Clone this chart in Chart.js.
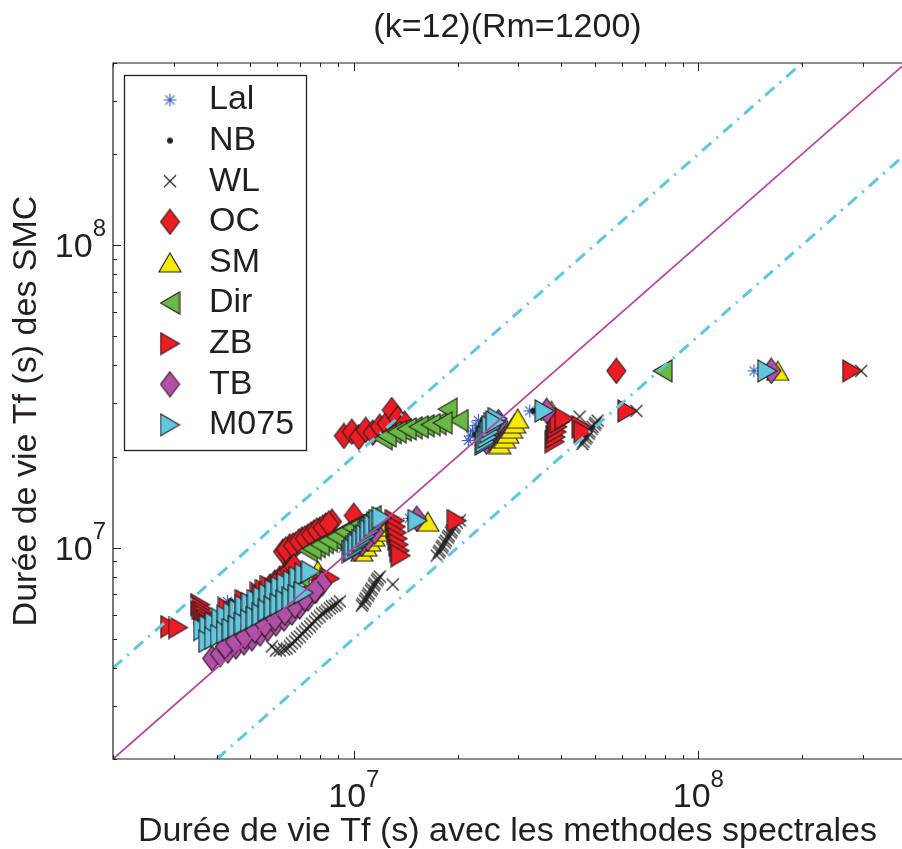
<!DOCTYPE html>
<html>
<head>
<meta charset="utf-8">
<script src="https://cdn.jsdelivr.net/npm/chart.js@4.4.0/dist/chart.umd.min.js"></script>
<style>
html, body { margin: 0; padding: 0; background: #fff; overflow: hidden; }
</style>
</head>
<body>
<canvas id="myChart" width="902" height="849"></canvas>
<script>
// axis limits (seconds), log-log
var axisMin = 2e6;
var xMax = 3.9e8;
var yMax = 4e8;
var majorTicks = [1e7, 1e8];
var minorSteps = [2, 3, 4, 5, 6, 7, 8, 9];
var tickBase = '10';
var tickExp = ['7', '8'];

// reference lines y = x, y = 2x, y = x/2
var diagX = [2e6, 4e8], diagY = [2e6, 4e8];
var upX = [2e6, 2e8], upY = [4e6, 4e8];
var lowX = [4e6, 8e8], lowY = [2e6, 4e8];

var names = ['Lal', 'NB', 'WL', 'OC', 'SM', 'Dir', 'ZB', 'TB', 'M075'];

// [spectral method Tf, SMC Tf]
var lal = [[1.45e8,3.84e7],[3.24e7,2.83e7],[2.15e7,2.26e7],[2.18e7,2.34e7],[2.21e7,2.43e7],[2.26e7,2.53e7],[2.30e7,2.63e7],
  [1.45e7,1.25e7],[9.3e6,9.95e6],[4.3e6,6.64e6]];
var nb = [[1.57e8,3.84e7],[3.32e7,2.83e7],[2.37e7,2.63e7],[2.30e7,2.47e7],[2.25e7,2.36e7],[1.47e7,1.24e7],[9.5e6,9.95e6],[4.4e6,6.64e6]];
var wl = [[2.97e8,3.84e7],[6.61e7,2.83e7],
  [4.61e7,2.20e7],[4.70e7,2.29e7],[4.80e7,2.38e7],[4.90e7,2.47e7],[5.00e7,2.55e7],[5.10e7,2.63e7],[4.52e7,2.71e7],
  [4.64e7,2.24e7],[4.74e7,2.32e7],[4.83e7,2.415e7],[4.93e7,2.51e7],[5.03e7,2.585e7],
  [1.74e7,9.41e6],[1.775e7,9.77e6],[1.81e7,1.015e7],[1.85e7,1.055e7],[1.886e7,1.095e7],[1.924e7,1.138e7],[1.962e7,1.182e7],[2.03e7,1.23e7],
  [1.764e7,9.63e6],[1.799e7,1.0e7],[1.835e7,1.039e7],[1.873e7,1.079e7],[1.911e7,1.121e7],[1.949e7,1.164e7],[1.99e7,1.209e7],
  [1.055e7,6.43e6],[1.076e7,6.68e6],[1.098e7,6.94e6],[1.12e7,7.21e6],[1.143e7,7.49e6],[1.166e7,7.78e6],[1.19e7,8.02e6],[1.297e7,7.55e6],
  [1.062e7,6.53e6],[1.083e7,6.79e6],[1.105e7,7.05e6],[1.128e7,7.32e6],[1.15e7,7.61e6],[1.174e7,7.90e6],
  [5.78e6,4.71e6],[6.10e6,4.57e6],[6.39e6,4.64e6],[6.61e6,4.82e6],[6.84e6,5.01e6],[7.07e6,5.20e6],[7.31e6,5.40e6],[7.55e6,5.61e6],
  [7.81e6,5.83e6],[8.08e6,6.06e6],[8.35e6,6.20e6],[8.64e6,6.39e6],[8.93e6,6.53e6],
  [5.94e6,4.57e6],[6.27e6,4.61e6],[6.52e6,4.71e6],[6.75e6,4.90e6],[6.97e6,5.08e6],[7.21e6,5.28e6],[7.46e6,5.48e6],[7.71e6,5.70e6],
  [7.97e6,5.92e6],[8.24e6,6.10e6],[8.52e6,6.29e6],[8.81e6,6.43e6],[9.11e6,6.64e6]];
var oc = [[5.78e7,3.84e7],
  [9.36e6,2.34e7],[9.87e6,2.415e7],[1.034e7,2.32e7],[1.083e7,2.45e7],[1.135e7,2.40e7],[1.19e7,2.51e7],[1.246e7,2.57e7],[1.289e7,2.85e7],[1.341e7,2.67e7],[1.405e7,2.57e7],
  [6.23e6,9.70e6],[6.52e6,1.008e7],[6.79e6,1.023e7],[7.07e6,1.063e7],[7.36e6,1.087e7],[7.66e6,1.121e7],[7.97e6,1.147e7],[8.29e6,1.182e7],[8.64e6,1.218e7],[1.0e7,1.275e7],
  [6.35e6,9.85e6],[6.66e6,1.015e7],[6.93e6,1.047e7],[7.21e6,1.071e7],[7.51e6,1.104e7],[7.81e6,1.138e7],[8.13e6,1.164e7],[8.46e6,1.200e7],
  [5.16e6,6.79e6],[5.34e6,6.99e6],[5.52e6,7.21e6],[5.71e6,7.43e6],[5.90e6,7.66e6],[6.10e6,7.90e6],[6.31e6,8.15e6],[6.52e6,8.40e6],[6.70e6,8.66e6]];
var sm = [[1.70e8,3.84e7],[3.75e7,2.83e7],
  [2.65e7,2.20e7],[2.74e7,2.29e7],[2.80e7,2.38e7],[2.87e7,2.47e7],[2.93e7,2.57e7],[2.99e7,2.67e7],
  [1.055e7,9.70e6],[1.083e7,1.008e7],[1.113e7,1.047e7],[1.143e7,1.087e7],[1.174e7,1.129e7],[1.206e7,1.173e7],[1.64e7,1.218e7],
  [4.67e6,5.83e6],[5.60e6,6.79e6],[6.52e6,7.32e6],[7.86e6,8.40e6]];
var dir = [[7.87e7,3.84e7],
  [1.214e7,2.29e7],[1.289e7,2.40e7],[1.378e7,2.45e7],[1.483e7,2.49e7],[1.606e7,2.53e7],[1.74e7,2.57e7],[1.873e7,2.87e7],[2.015e7,2.63e7],
  [1.246e7,2.34e7],[1.333e7,2.415e7],[1.424e7,2.47e7],[1.543e7,2.51e7],[1.672e7,2.55e7],[1.811e7,2.585e7],
  [7.36e6,9.77e6],[7.76e6,1.008e7],[8.19e6,1.039e7],[8.64e6,1.071e7],[9.11e6,1.112e7],[9.61e6,1.147e7],[1.013e7,1.182e7],[1.069e7,1.218e7],[1.128e7,1.266e7],
  [7.55e6,9.92e6],[7.97e6,1.023e7],[8.41e6,1.055e7],[8.87e6,1.087e7],[9.36e6,1.129e7],[9.87e6,1.164e7],[1.041e7,1.200e7],[1.098e7,1.237e7],
  [4.23e6,5.20e6],[4.67e6,5.48e6],[5.16e6,6.06e6],[5.41e6,6.58e6],[6.10e6,7.32e6],[6.97e6,8.02e6]];
var zb = [[2.795e8,3.84e7],[6.23e7,2.83e7],
  [3.83e7,2.24e7],[3.85e7,2.32e7],[3.88e7,2.415e7],[3.90e7,2.51e7],[3.955e7,2.60e7],[4.09e7,2.67e7],[4.58e7,2.51e7],[4.64e7,2.415e7],
  [1.315e7,1.228e7],[1.324e7,1.173e7],[1.333e7,1.121e7],[1.341e7,1.071e7],[1.35e7,1.023e7],[1.359e7,9.77e6],[1.368e7,9.41e6],[1.99e7,1.228e7],
  [2.93e6,5.48e6],[3.09e6,5.44e6],[3.58e6,6.48e6],[3.62e6,6.29e6],[3.66e6,6.10e6],[3.70e6,5.92e6],[3.74e6,5.74e6],[3.78e6,5.57e6],[3.82e6,5.40e6],
  [4.31e6,6.29e6],[4.83e6,6.68e6],[5.34e6,7.05e6],[5.52e6,7.21e6],[5.71e6,7.43e6],[8.08e6,7.61e6],[8.52e6,7.90e6]];
var tb = [[1.628e8,3.84e7],[3.63e7,2.83e7],
  [2.43e7,2.24e7],[2.48e7,2.32e7],[2.53e7,2.415e7],[2.58e7,2.51e7],[2.63e7,2.60e7],
  [1.007e7,9.92e6],[1.055e7,1.031e7],[1.098e7,1.071e7],[1.15e7,1.129e7],[1.523e7,1.246e7],
  [3.88e6,4.30e6],[4.09e6,4.44e6],[4.31e6,4.57e6],[4.55e6,4.71e6],[4.80e6,4.86e6],[5.06e6,5.01e6],[5.34e6,5.20e6],[5.63e6,5.40e6],
  [5.94e6,5.61e6],[6.27e6,5.83e6],[6.61e6,6.10e6],[6.97e6,6.39e6],[7.36e6,6.79e6],[7.76e6,7.21e6],[8.08e6,7.61e6],
  [4.23e6,4.71e6],[4.52e6,4.90e6],[4.83e6,5.08e6],[5.16e6,5.32e6],[5.52e6,5.57e6],[5.90e6,5.83e6],[6.31e6,6.10e6],[6.75e6,6.43e6],
  [7.21e6,6.79e6],[7.71e6,7.21e6]];
var m075 = [[1.585e8,3.84e7],[3.58e7,2.83e7],
  [2.397e7,2.20e7],[2.43e7,2.29e7],[2.46e7,2.38e7],[2.495e7,2.47e7],[2.545e7,2.57e7],[2.615e7,2.67e7],
  [2.41e7,2.24e7],[2.445e7,2.32e7],[2.48e7,2.415e7],[2.51e7,2.51e7],[2.58e7,2.60e7],
  [9.87e6,9.70e6],[1.013e7,1.008e7],[1.041e7,1.039e7],[1.069e7,1.079e7],[1.098e7,1.121e7],[1.128e7,1.164e7],[1.166e7,1.209e7],[1.532e7,1.228e7],
  [1.0e7,9.85e6],[1.027e7,1.023e7],[1.055e7,1.055e7],[1.083e7,1.095e7],[1.113e7,1.138e7],[1.143e7,1.182e7],[1.182e7,1.228e7],[1.206e7,1.256e7],
  [3.65e6,5.36e6],[3.80e6,5.48e6],[3.95e6,5.61e6],[4.12e6,5.79e6],[4.28e6,5.92e6],[4.46e6,6.06e6],[4.64e6,6.20e6],[4.83e6,6.39e6],
  [5.03e6,6.53e6],[5.23e6,6.68e6],[5.45e6,6.84e6],[5.67e6,6.99e6],[5.90e6,7.21e6],[6.14e6,7.38e6],[6.39e6,7.55e6],[6.66e6,7.72e6],
  [6.93e6,7.96e6],[7.21e6,8.15e6],[7.51e6,8.33e6],
  [3.78e6,4.90e6],[3.93e6,5.01e6],[4.09e6,5.12e6],[4.26e6,5.24e6],[4.43e6,5.36e6],[4.61e6,5.48e6],[4.80e6,5.61e6],[5.00e6,5.74e6],
  [5.20e6,5.87e6],[5.41e6,6.01e6],[5.63e6,6.20e6],[5.86e6,6.34e6],[6.10e6,6.48e6],[6.35e6,6.64e6],[6.61e6,6.79e6],[6.88e6,6.94e6],[7.16e6,7.10e6]];

var ink = '#231f20';
var family = "'Liberation Sans', Arial, Helvetica, sans-serif";
Chart.defaults.font.family = family;

// matlab-like markers drawn once on small canvases
function makeMarker(kind, fill) {
  var c = document.createElement('canvas');
  var g;
  if (kind === 'star') {
    c.width = 15; c.height = 15;
    g = c.getContext('2d');
    g.strokeStyle = fill; g.lineWidth = 1.2;
    g.beginPath();
    g.moveTo(1, 7.5); g.lineTo(14, 7.5);
    g.moveTo(7.5, 1); g.lineTo(7.5, 14);
    g.moveTo(2.9, 2.9); g.lineTo(12.1, 12.1);
    g.moveTo(12.1, 2.9); g.lineTo(2.9, 12.1);
    g.stroke();
    return c;
  }
  if (kind === 'dot') {
    c.width = 8; c.height = 8;
    g = c.getContext('2d');
    g.fillStyle = fill;
    g.beginPath(); g.arc(4, 4, 3, 0, Math.PI * 2); g.fill();
    return c;
  }
  if (kind === 'x') {
    c.width = 14; c.height = 14;
    g = c.getContext('2d');
    g.strokeStyle = fill; g.lineWidth = 1.2;
    g.beginPath();
    g.moveTo(1, 1); g.lineTo(13, 13);
    g.moveTo(13, 1); g.lineTo(1, 13);
    g.stroke();
    return c;
  }
  if (kind === 'diamond') {
    c.width = 21; c.height = 27;
    g = c.getContext('2d');
    g.beginPath(); g.moveTo(10.5, 1); g.lineTo(20, 13.5); g.lineTo(10.5, 26); g.lineTo(1, 13.5); g.closePath();
  } else if (kind === 'up') {
    c.width = 24; c.height = 21;
    g = c.getContext('2d');
    g.beginPath(); g.moveTo(12, 1); g.lineTo(23, 20); g.lineTo(1, 20); g.closePath();
  } else if (kind === 'right') {
    c.width = 21; c.height = 24;
    g = c.getContext('2d');
    g.beginPath(); g.moveTo(1, 1); g.lineTo(20, 12); g.lineTo(1, 23); g.closePath();
  } else {
    c.width = 21; c.height = 24;
    g = c.getContext('2d');
    g.beginPath(); g.moveTo(20, 1); g.lineTo(1, 12); g.lineTo(20, 23); g.closePath();
  }
  g.fillStyle = fill; g.fill();
  g.strokeStyle = ink; g.lineWidth = 1.1; g.lineJoin = 'miter'; g.stroke();
  return c;
}

var series = [
  { data: lal, marker: makeMarker('star', '#3f62bd') },
  { data: nb, marker: makeMarker('dot', ink) },
  { data: wl, marker: makeMarker('x', ink) },
  { data: oc, marker: makeMarker('diamond', '#ed1c24') },
  { data: sm, marker: makeMarker('up', '#f5ea00') },
  { data: dir, marker: makeMarker('left', '#69b944') },
  { data: zb, marker: makeMarker('right', '#ed1c24') },
  { data: tb, marker: makeMarker('diamond', '#b24fa6') },
  { data: m075, marker: makeMarker('right', '#62c6dc') }
];

function toXY(xs, ys) {
  return xs.map(function (v, i) { return { x: v, y: ys[i] }; });
}

var datasets = series.map(function (s, i) {
  return {
    label: names[i],
    data: s.data.map(function (p) { return { x: p[0], y: p[1] }; }),
    pointStyle: s.marker,
    pointRadius: 12,
    order: 9 - i
  };
});

datasets.push({ label: 'y=x', data: toXY(diagX, diagY), showLine: true, borderColor: '#b5479f', borderWidth: 1.8, pointRadius: 0, order: -1 });
datasets.push({ label: 'y=2x', data: toXY(upX, upY), showLine: true, borderColor: '#5ec8da', borderWidth: 3, borderDash: [12, 7, 2, 7], pointRadius: 0, order: -1 });
datasets.push({ label: 'y=x/2', data: toXY(lowX, lowY), showLine: true, borderColor: '#5ec8da', borderWidth: 3, borderDash: [12, 7, 2, 7], pointRadius: 0, order: -1 });

// box, inward ticks, 10^n labels, legend
var framePlugin = {
  id: 'frame',
  afterDraw: function (chart) {
    var ctx = chart.ctx, ca = chart.chartArea;
    var xs = chart.scales.x, ys = chart.scales.y;
    ctx.save();
    ctx.strokeStyle = ink;
    ctx.lineWidth = 1.2;
    ctx.beginPath();
    ctx.moveTo(ca.right + 2, ca.top); ctx.lineTo(ca.left, ca.top);
    ctx.lineTo(ca.left, ca.bottom); ctx.lineTo(ca.right + 2, ca.bottom);
    ctx.stroke();

    ctx.lineWidth = 1;
    ctx.beginPath();
    [1e6, 1e7, 1e8].forEach(function (dec) {
      [1].concat(minorSteps).forEach(function (m) {
        var v = m * dec;
        var len = m === 1 ? 8 : 4;
        if (v >= xs.min && v <= xs.max) {
          var px = Math.round(xs.getPixelForValue(v)) + 0.5;
          ctx.moveTo(px, ca.bottom); ctx.lineTo(px, ca.bottom - len);
          ctx.moveTo(px, ca.top); ctx.lineTo(px, ca.top + len);
        }
        if (v >= ys.min && v <= ys.max) {
          var py = Math.round(ys.getPixelForValue(v)) + 0.5;
          ctx.moveTo(ca.left, py); ctx.lineTo(ca.left + len, py);
        }
      });
    });
    ctx.stroke();

    ctx.fillStyle = ink;
    ctx.textAlign = 'left';
    ctx.textBaseline = 'alphabetic';
    majorTicks.forEach(function (v, i) {
      ctx.font = '34px ' + family;
      var wb = ctx.measureText(tickBase).width;
      ctx.font = '24px ' + family;
      var we = ctx.measureText(tickExp[i]).width;
      var px = xs.getPixelForValue(v);
      var x0 = px - (wb + we) / 2;
      ctx.font = '34px ' + family;
      ctx.fillText(tickBase, x0, ca.bottom + 48);
      ctx.font = '24px ' + family;
      ctx.fillText(tickExp[i], x0 + wb, ca.bottom + 28);
      var py = ys.getPixelForValue(v);
      var xr = ca.left - 7;
      ctx.font = '34px ' + family;
      ctx.fillText(tickBase, xr - we - wb, py + 12);
      ctx.font = '24px ' + family;
      ctx.fillText(tickExp[i], xr - we, py - 9);
    });

    // legend box inside the axes
    var lx = 124, ly = 75, lw = 182, lh = 375;
    ctx.fillStyle = '#fff';
    ctx.fillRect(lx, ly, lw, lh);
    ctx.strokeStyle = ink;
    ctx.lineWidth = 1.3;
    ctx.strokeRect(lx + 0.5, ly + 0.5, lw, lh);
    ctx.font = '34px ' + family;
    ctx.textBaseline = 'middle';
    ctx.fillStyle = ink;
    names.forEach(function (n, i) {
      var cy = 100 + i * 40.6;
      var img = series[i].marker;
      ctx.drawImage(img, 170 - img.width / 2, cy - img.height / 2);
      ctx.fillText(n, 209, cy);
    });
    ctx.restore();
  }
};

var ctx = document.getElementById('myChart');
var myChart = new Chart(ctx, {
  type: 'scatter',
  data: { datasets: datasets },
  options: {
    responsive: false,
    animation: false,
    events: [],
    layout: { autoPadding: false, padding: { left: 10, right: 0, top: 0, bottom: 0 } },
    plugins: {
      legend: { display: false },
      tooltip: { enabled: false },
      title: {
        display: true,
        text: '(k=12)(Rm=1200)',
        fullSize: false,
        color: ink,
        font: { size: 34, weight: 'normal', lineHeight: 1 },
        padding: { top: 11, bottom: 18 }
      }
    },
    scales: {
      x: {
        type: 'logarithmic',
        min: axisMin,
        max: xMax,
        grid: { display: false },
        border: { display: false },
        ticks: { display: false },
        title: {
          display: true,
          text: 'Durée de vie Tf (s) avec les methodes spectrales',
          color: ink,
          font: { size: 34, lineHeight: 1 },
          padding: 0
        },
        afterFit: function (s) { s.height = 90; }
      },
      y: {
        type: 'logarithmic',
        min: axisMin,
        max: yMax,
        grid: { display: false },
        border: { display: false },
        ticks: { display: false },
        title: {
          display: true,
          text: 'Durée de vie Tf (s) des SMC',
          color: ink,
          font: { size: 34, lineHeight: 1 },
          padding: 0
        },
        afterFit: function (s) { s.width = 103; }
      }
    }
  },
  plugins: [framePlugin]
});
</script>
</body>
</html>
